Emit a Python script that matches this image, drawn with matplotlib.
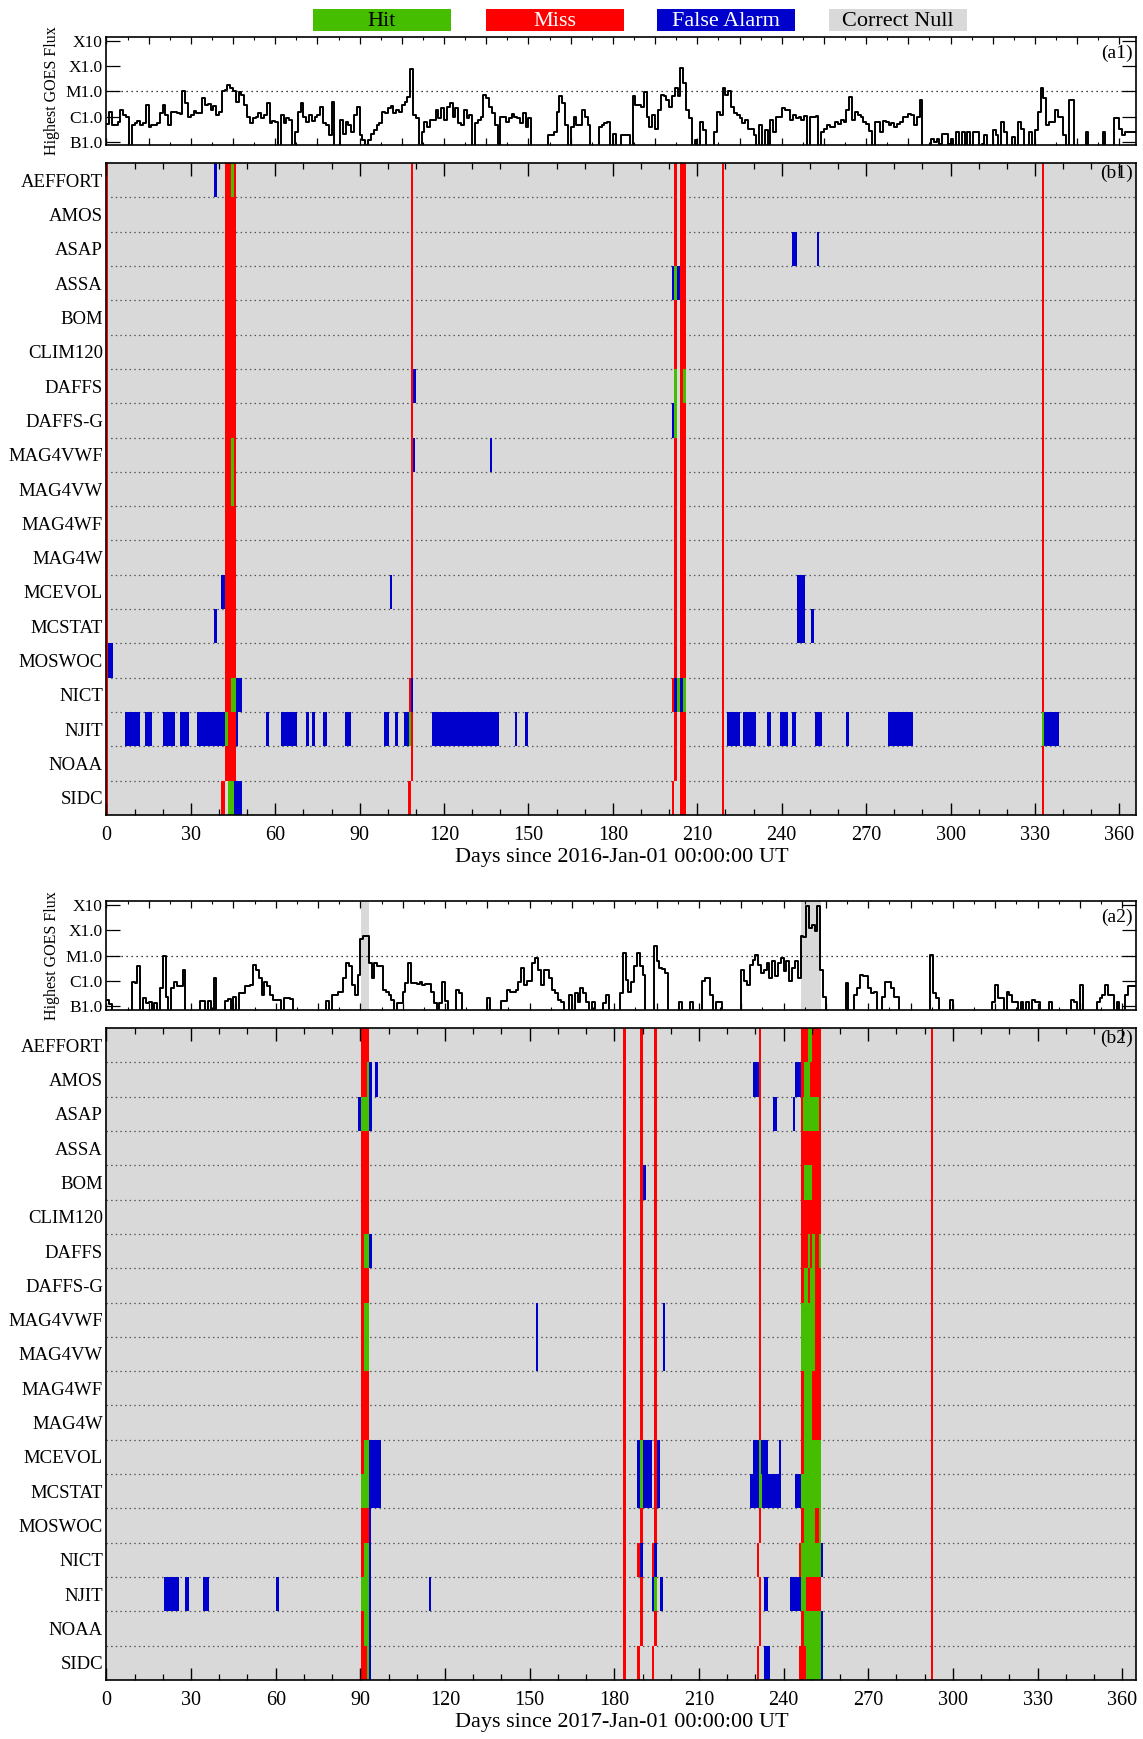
import numpy as np
import matplotlib
matplotlib.use("Agg")
import matplotlib.pyplot as plt
from matplotlib.patches import Rectangle
from matplotlib.ticker import MultipleLocator, NullFormatter, LogLocator

plt.rcParams['font.family'] = ['Liberation Serif', 'DejaVu Serif']

# ---------------------------------------------------------------- labels
methods = ["AEFFORT", "AMOS", "ASAP", "ASSA", "BOM", "CLIM120", "DAFFS", "DAFFS-G",
           "MAG4VWF", "MAG4VW", "MAG4WF", "MAG4W", "MCEVOL", "MCSTAT", "MOSWOC",
           "NICT", "NJIT", "NOAA", "SIDC"]
legend_labels = ["Hit", "Miss", "False Alarm", "Correct Null"]
legend_colors = ["#46be00", "#ff0000", "#0000cd", "#d9d9d9"]
legend_text_colors = ["black", "white", "white", "black"]
flux_tick_values = [1e-7, 1e-6, 1e-5, 1e-4, 1e-3]
flux_tick_labels = ["B1.0", "C1.0", "M1.0", "X1.0", "X10"]
day_ticks = [0, 30, 60, 90, 120, 150, 180, 210, 240, 270, 300, 330, 360]

# ---------------------------------------------------------------- GOES flux (log10 W/m^2), step starts (day)
flux16_start = [0, 1, 2, 4, 5, 6, 7, 8, 9, 10, 11, 12, 13, 14, 15, 16, 18, 19, 20, 21, 22, 23, 25, 26, 27, 28, 29,
                30, 31, 32, 34, 35, 36, 37, 38, 39, 40, 41, 42, 43, 44, 45, 46, 47, 48, 49, 50, 51, 52, 53, 54, 55,
                56, 57, 58, 59, 60, 61, 62, 63, 64, 65, 66, 67, 68, 69, 70, 71, 72, 73, 74, 75, 76, 77, 78, 79, 80,
                81, 83, 84, 85, 86, 87, 88, 89, 90, 91, 92, 93, 94, 95, 96, 97, 98, 99, 100, 101, 102, 103, 104,
                105, 106, 107, 108, 109, 110, 111, 112, 113, 114, 115, 117, 118, 119, 120, 121, 122, 123, 124, 125,
                126, 127, 128, 129, 130, 131, 132, 133, 134, 135, 136, 137, 138, 139, 140, 142, 143, 144, 145, 146,
                147, 148, 149, 150, 151, 157, 159, 160, 161, 162, 163, 164, 165, 166, 167, 169, 170, 171, 172, 175,
                176, 177, 178, 179, 180, 181, 183, 186, 187, 188, 190, 191, 192, 193, 194, 195, 196, 197, 198, 199,
                200, 201, 202, 203, 204, 205, 206, 207, 208, 209, 210, 211, 212, 213, 216, 217, 218, 219, 220, 221,
                222, 223, 224, 225, 226, 227, 228, 230, 231, 232, 233, 234, 235, 236, 237, 238, 239, 240, 241, 243,
                244, 245, 246, 247, 248, 249, 250, 252, 253, 254, 255, 256, 257, 259, 260, 261, 262, 263, 264, 265,
                266, 267, 268, 269, 270, 271, 272, 273, 275, 276, 277, 278, 279, 280, 281, 282, 283, 285, 286, 287,
                288, 289, 290, 293, 294, 295, 296, 297, 299, 300, 301, 302, 303, 304, 305, 306, 307, 308, 310, 311,
                312, 313, 315, 316, 317, 318, 319, 320, 322, 323, 324, 325, 326, 328, 329, 330, 331, 332, 333, 334,
                335, 337, 338, 340, 341, 342, 344, 348, 349, 354, 355, 358, 360, 361, 362]
flux16_log = [-6.3, -5.8, -6.33, -6.23, -5.73, -5.93, -6.0, -7.5, -6.33, -6.27, -6.17, -6.33, -6.27, -5.53, -6.4,
              -6.33, -6.27, -5.87, -5.53, -5.93, -6.33, -5.83, -5.87, -5.91, -5.0, -5.47, -6.0, -5.93, -5.77, -5.87,
              -5.27, -5.53, -5.51, -5.73, -5.56, -5.93, -5.8, -5.0, -4.93, -4.73, -4.87, -4.97, -5.4, -5.03, -5.13,
              -5.53, -6.0, -6.27, -6.07, -6.0, -5.87, -6.04, -5.93, -5.47, -6.27, -6.17, -6.23, -7.5, -5.93, -6.27,
              -6.07, -6.13, -7.5, -6.6, -5.8, -5.47, -6.0, -6.2, -5.93, -6.17, -6.0, -5.93, -5.6, -6.27, -6.33,
              -6.73, -5.4, -7.5, -6.13, -6.67, -6.2, -6.33, -6.6, -5.93, -5.6, -6.73, -6.93, -7.5, -6.93, -6.67,
              -6.53, -6.33, -6.27, -5.8, -5.87, -5.67, -5.56, -5.87, -5.73, -5.8, -5.53, -5.4, -5.24, -4.13, -5.93,
              -6.07, -7.5, -6.6, -6.2, -6.4, -6.13, -5.73, -6.07, -5.67, -6.13, -5.6, -5.47, -6.0, -5.67, -6.27,
              -6.33, -5.73, -6.07, -5.93, -7.5, -6.27, -6.13, -6.0, -5.13, -5.27, -5.6, -5.87, -6.33, -7.5, -6.0,
              -6.23, -6.07, -5.91, -6.0, -6.07, -6.27, -5.87, -6.4, -6.07, -7.5, -6.73, -6.6, -5.8, -5.2, -5.47,
              -6.33, -7.5, -6.4, -6.0, -6.33, -5.73, -6.0, -6.33, -7.5, -6.4, -6.33, -6.27, -6.23, -7.5, -6.67,
              -7.5, -6.73, -7.5, -5.2, -5.53, -5.6, -5.03, -6.0, -6.4, -5.93, -6.47, -5.73, -5.13, -5.2, -5.33,
              -5.6, -5.2, -4.87, -5.2, -4.07, -4.67, -5.73, -6.07, -7.5, -6.93, -7.5, -6.23, -6.53, -7.5, -6.6,
              -5.8, -5.93, -4.87, -5.13, -5.0, -5.6, -5.87, -5.93, -6.07, -6.27, -6.13, -6.47, -6.73, -7.5, -6.33,
              -7.5, -6.53, -7.5, -6.13, -6.6, -6.0, -6.0, -5.64, -5.73, -6.13, -5.93, -6.04, -6.0, -6.13, -5.97,
              -7.5, -6.0, -5.97, -7.5, -6.6, -6.47, -6.33, -6.4, -6.23, -6.31, -6.13, -6.23, -5.73, -5.24, -6.13,
              -5.8, -5.93, -6.0, -6.23, -6.31, -6.57, -7.5, -6.23, -6.6, -6.17, -6.23, -6.33, -6.27, -6.4, -6.31,
              -6.23, -6.0, -5.88, -5.93, -6.33, -6.0, -5.33, -7.5, -6.87, -7.0, -6.87, -7.07, -6.67, -7.07, -6.87,
              -7.5, -6.6, -7.5, -6.6, -7.5, -6.6, -7.5, -6.6, -7.5, -7.07, -6.73, -7.5, -6.53, -6.73, -7.5, -6.2,
              -6.6, -7.5, -6.8, -7.5, -6.23, -6.47, -7.5, -6.6, -7.5, -6.53, -5.8, -4.87, -5.27, -6.33, -6.23,
              -5.73, -6.0, -6.73, -7.5, -5.33, -7.5, -6.6, -7.5, -6.6, -7.5, -6.07, -6.47, -6.73, -6.6]

flux17_start = [0, 1, 2, 9, 10, 11, 12, 13, 14, 15, 16, 17, 18, 19, 20, 21, 22, 23, 24, 25, 27, 28, 33, 35, 36, 37,
                38, 39, 42, 43, 44, 45, 46, 47, 49, 51, 52, 53, 54, 55, 56, 57, 58, 59, 62, 63, 65, 66, 78, 79, 80,
                82, 84, 85, 86, 87, 88, 89, 90, 91, 93, 94, 95, 96, 98, 99, 100, 101, 102, 103, 105, 106, 107, 108,
                110, 111, 112, 113, 115, 116, 117, 118, 119, 120, 121, 124, 125, 126, 135, 136, 140, 142, 143, 145,
                146, 147, 148, 149, 151, 152, 153, 154, 155, 157, 158, 159, 160, 161, 162, 164, 165, 166, 167, 168,
                169, 170, 171, 172, 173, 176, 177, 178, 182, 183, 184, 185, 186, 187, 188, 189, 190, 191, 194, 195,
                196, 197, 198, 199, 203, 204, 207, 208, 211, 212, 214, 215, 216, 218, 225, 226, 227, 228, 229, 230,
                231, 232, 233, 234, 235, 236, 237, 238, 239, 240, 241, 242, 243, 244, 245, 246, 247, 248, 249, 250,
                251, 252, 253, 254, 255, 262, 263, 265, 266, 267, 268, 270, 271, 272, 273, 275, 276, 278, 279, 281,
                292, 293, 294, 295, 299, 300, 314, 315, 316, 318, 319, 320, 321, 323, 324, 325, 326, 327, 328, 329,
                331, 334, 335, 342, 343, 344, 345, 346, 351, 352, 353, 354, 355, 357, 358, 359, 361, 362]
flux17_log = [-6.75, -6.9, -7.5, -6.05, -6.09, -5.42, -7.5, -6.68, -6.88, -6.85, -7.5, -6.88, -7.5, -6.28, -5.03,
              -6.62, -7.5, -6.28, -6.05, -6.22, -5.56, -7.5, -6.79, -7.5, -6.79, -7.5, -5.89, -7.5, -6.79, -6.72,
              -7.5, -6.62, -7.5, -6.49, -6.22, -6.15, -5.36, -5.56, -5.89, -6.55, -6.05, -6.22, -6.55, -6.75, -7.5,
              -6.68, -6.72, -7.5, -6.79, -7.5, -6.55, -6.42, -5.89, -5.29, -5.42, -6.15, -6.55, -5.75, -4.36, -4.23,
              -5.29, -5.89, -5.29, -5.42, -6.35, -6.42, -6.55, -6.75, -7.5, -6.88, -6.42, -6.09, -5.29, -6.09,
              -6.12, -6.05, -6.15, -6.12, -6.42, -6.88, -7.5, -6.88, -6.05, -6.8, -7.5, -6.35, -6.49, -7.5, -6.68,
              -7.5, -6.8, -6.35, -6.42, -6.35, -6.05, -5.49, -6.15, -6.02, -5.29, -5.09, -5.56, -6.15, -5.56, -5.89,
              -6.35, -6.49, -6.75, -6.82, -7.5, -6.55, -7.5, -6.49, -6.82, -6.28, -6.49, -6.82, -7.5, -6.82, -7.5,
              -6.88, -6.55, -7.5, -6.49, -4.89, -5.95, -6.42, -6.05, -5.42, -4.89, -5.42, -5.75, -7.5, -4.63, -5.23,
              -5.49, -5.52, -5.69, -7.5, -6.82, -7.5, -6.82, -7.5, -6.02, -5.89, -6.55, -7.5, -6.82, -7.5, -5.56,
              -6.02, -6.15, -5.36, -5.16, -4.96, -5.36, -5.69, -5.56, -5.29, -5.89, -5.23, -5.82, -5.29, -5.09,
              -5.62, -5.23, -6.02, -5.49, -5.23, -5.89, -4.23, -4.27, -3.04, -3.9, -3.77, -4.03, -3.04, -5.56,
              -6.62, -7.5, -6.09, -7.5, -6.55, -6.28, -5.75, -5.82, -6.28, -6.49, -6.42, -7.5, -6.62, -6.05, -6.28,
              -6.62, -7.5, -4.96, -6.49, -6.68, -7.5, -6.75, -7.5, -6.82, -6.15, -6.68, -7.5, -6.42, -6.55, -6.82,
              -7.5, -6.82, -7.5, -6.82, -7.5, -6.75, -6.82, -7.5, -6.82, -7.5, -6.75, -6.82, -7.5, -6.15, -7.5,
              -6.82, -6.68, -6.55, -6.15, -6.55, -7.5, -6.82, -7.5, -6.55, -6.2]

# shaded day spans in the flux panels
shade_2016 = []
shade_2017 = [(90.2, 93.2), (246.3, 253.4)]

# ---------------------------------------------------------------- forecast outcomes 2016
# misses that affect every method: (start_day, end_day)
miss_all_2016 = [(0.0, 0.6), (42.0, 45.9), (108.2, 109.0), (201.6, 202.6), (203.7, 205.8),
                 (218.8, 219.6), (332.4, 333.1)]
# (method, start_day, end_day)
null_2016 = [("SIDC", 42.0, 43.1), ("SIDC", 201.6, 202.6), ("SIDC", 108.2, 109.0)]
miss_2016 = [("SIDC", 40.9, 42.0), ("NICT", 200.9, 201.6), ("SIDC", 200.9, 201.6), ("SIDC", 107.3, 108.1),
             ("NICT", 107.4, 108.2)]
hit_2016 = [("AEFFORT", 44.2, 45.2), ("MAG4VWF", 44.2, 45.2), ("MAG4VW", 44.2, 45.2), ("NICT", 44.2, 45.9),
            ("NJIT", 42.0, 43.1), ("SIDC", 43.1, 45.2), ("NJIT", 107.5, 108.2), ("ASSA", 201.6, 202.6),
            ("DAFFS", 201.6, 202.6), ("DAFFS", 204.8, 205.8), ("DAFFS-G", 201.6, 202.6), ("NICT", 202.6, 203.7),
            ("NICT", 204.8, 205.8), ("NJIT", 332.4, 333.1)]
fa_2016 = [("MOSWOC", 0.6, 2.2), ("AEFFORT", 38.1, 39.2), ("MCSTAT", 38.1, 39.2), ("MCEVOL", 40.9, 42.0),
           ("NICT", 45.9, 48.1), ("SIDC", 45.2, 48.1), ("NJIT", 45.9, 46.6), ("MCEVOL", 100.7, 101.5),
           ("NICT", 108.2, 108.8), ("DAFFS", 109.0, 110.0), ("MAG4VWF", 109.0, 109.7), ("MAG4VWF", 136.2, 137.0),
           ("ASSA", 200.9, 201.6), ("ASSA", 202.6, 203.7), ("DAFFS-G", 200.9, 201.6), ("NICT", 201.6, 202.6),
           ("NICT", 203.7, 204.8), ("ASAP", 243.8, 245.4), ("ASAP", 252.5, 253.2), ("MCEVOL", 245.4, 248.1),
           ("MCSTAT", 245.4, 248.1), ("MCSTAT", 250.5, 251.3),
           ("NJIT", 6.7, 11.8), ("NJIT", 13.8, 16.1), ("NJIT", 20.0, 24.4), ("NJIT", 26.3, 29.5),
           ("NJIT", 32.2, 42.0), ("NJIT", 56.6, 57.8), ("NJIT", 62.1, 67.6), ("NJIT", 70.8, 72.0),
           ("NJIT", 73.1, 74.3), ("NJIT", 77.1, 78.3), ("NJIT", 84.9, 86.9), ("NJIT", 98.7, 100.3),
           ("NJIT", 102.6, 103.8), ("NJIT", 105.8, 107.5), ("NJIT", 115.6, 139.6), ("NJIT", 145.1, 145.9),
           ("NJIT", 148.6, 149.8), ("NJIT", 220.6, 225.0), ("NJIT", 226.1, 230.8), ("NJIT", 234.8, 236.3),
           ("NJIT", 239.5, 242.3), ("NJIT", 243.8, 245.0), ("NJIT", 251.7, 254.4), ("NJIT", 262.7, 263.9),
           ("NJIT", 277.6, 286.7), ("NJIT", 333.1, 338.6)]

# ---------------------------------------------------------------- forecast outcomes 2017
miss_all_2017 = [(90.2, 93.1), (183.2, 184.2), (189.2, 190.3), (194.2, 195.3), (231.4, 232.1),
                 (246.3, 253.4), (292.3, 293.0)]
null_2017 = [("SIDC", 189.2, 190.3), ("SIDC", 194.2, 195.3), ("NICT", 231.4, 232.1), ("SIDC", 231.4, 232.1)]
miss_2017 = [("NICT", 188.2, 189.2), ("SIDC", 188.2, 189.2), ("NICT", 193.5, 194.2), ("SIDC", 193.5, 194.2),
             ("NICT", 230.4, 231.4), ("SIDC", 230.4, 231.4), ("NICT", 245.3, 246.3), ("SIDC", 245.3, 246.3)]
hit_2017 = [("AMOS", 92.4, 93.1), ("ASAP", 90.2, 93.1), ("DAFFS", 91.3, 93.1), ("MAG4VWF", 91.3, 93.1),
            ("MAG4VW", 91.3, 93.1), ("MCEVOL", 91.3, 93.1), ("MCSTAT", 90.2, 93.1), ("NICT", 91.3, 93.1),
            ("NJIT", 90.2, 93.1), ("NOAA", 91.3, 93.1), ("SIDC", 92.4, 93.1),
            ("MCEVOL", 189.2, 190.3), ("MCSTAT", 189.2, 190.3), ("NJIT", 194.2, 195.3),
            ("MCEVOL", 231.4, 232.1), ("MCSTAT", 231.4, 232.4),
            ("AEFFORT", 248.5, 250.2), ("AMOS", 247.4, 249.2), ("ASAP", 247.0, 252.4), ("BOM", 247.4, 250.2),
            ("DAFFS", 248.5, 249.5), ("DAFFS", 250.2, 251.3), ("DAFFS", 252.4, 253.4),
            ("DAFFS-G", 247.4, 248.5), ("DAFFS-G", 249.2, 251.3), ("MAG4VWF", 246.3, 251.3),
            ("MAG4VW", 246.3, 251.3), ("MAG4WF", 247.4, 250.2), ("MAG4W", 247.4, 250.2),
            ("MCEVOL", 247.4, 253.4), ("MCSTAT", 246.3, 253.4), ("MOSWOC", 247.4, 251.3),
            ("MOSWOC", 252.4, 253.4), ("NICT", 246.3, 253.4), ("NJIT", 246.3, 248.1), ("NOAA", 247.4, 253.4),
            ("SIDC", 248.1, 253.4)]
fa_2017 = [("NJIT", 20.4, 25.6), ("NJIT", 27.9, 29.1), ("NJIT", 34.2, 36.2), ("NJIT", 60.2, 61.0),
           ("ASAP", 89.2, 90.2), ("AMOS", 93.1, 94.2), ("AMOS", 95.2, 96.3), ("ASAP", 93.1, 94.2),
           ("DAFFS", 93.1, 94.2), ("MCEVOL", 93.1, 97.3), ("MCSTAT", 93.1, 97.3), ("MOSWOC", 93.1, 93.8),
           ("NICT", 93.1, 93.8), ("NJIT", 93.1, 93.8), ("NOAA", 93.1, 93.8), ("SIDC", 93.1, 93.8),
           ("NJIT", 114.4, 115.2), ("MAG4VWF", 152.2, 153.0), ("MAG4VW", 152.2, 153.0),
           ("MCEVOL", 188.2, 189.2), ("MCSTAT", 188.2, 189.2), ("BOM", 190.3, 191.4),
           ("MCEVOL", 190.3, 193.5), ("MCSTAT", 190.3, 193.5), ("NICT", 189.2, 190.3), ("NJIT", 193.5, 194.2),
           ("NICT", 194.2, 195.3), ("MCEVOL", 195.3, 196.3), ("MCSTAT", 195.3, 196.3), ("NJIT", 196.3, 197.4),
           ("MAG4VWF", 197.4, 198.1), ("MAG4VW", 197.4, 198.1), ("MCSTAT", 228.2, 231.4),
           ("MCEVOL", 229.3, 231.4), ("AMOS", 229.3, 231.4), ("MCEVOL", 232.1, 234.3), ("MCSTAT", 232.4, 239.2),
           ("NJIT", 233.2, 234.3), ("SIDC", 233.2, 235.3), ("ASAP", 236.4, 237.5), ("MCEVOL", 238.2, 239.2),
           ("NJIT", 242.1, 246.3), ("ASAP", 243.5, 244.2), ("AMOS", 244.2, 246.3), ("MCSTAT", 244.2, 246.3),
           ("NICT", 253.4, 254.1), ("NOAA", 253.4, 254.1), ("SIDC", 253.4, 254.1)]

# ---------------------------------------------------------------- figure
W, H = 1143, 1739
fig = plt.figure(figsize=(W / 100, H / 100), dpi=100)
fig.patch.set_facecolor("white")

HIT, MISS, FA, NULL = legend_colors
AX_L, AX_W = 106.4 / W, (1136.3 - 106.4) / W


def fig_rect(top_px, bottom_px):
    return [AX_L, 1 - bottom_px / H, AX_W, (bottom_px - top_px) / H]


def draw_flux(ax, starts, logs, shades, label, ndays, ylim):
    x = np.append(np.asarray(starts, float), ndays)
    y = 10.0 ** np.asarray(logs, float)
    y = np.append(y, y[-1])
    for s0, s1 in shades:
        ax.axvspan(s0, s1, color=NULL, lw=0, zorder=1)
    ax.plot(x, y, drawstyle="steps-post", color="black", lw=1.4, zorder=3)
    ax.set_yscale("log")
    ax.set_ylim(*ylim)
    ax.set_xlim(0, ndays)
    ax.axhline(1e-5, color="black", ls=(0, (1, 3)), lw=0.9, zorder=2)
    ax.set_yticks(flux_tick_values)
    ax.set_yticklabels(flux_tick_labels, fontsize=12.5)
    ax.yaxis.set_minor_locator(LogLocator(base=10, subs=np.arange(2, 10)))
    ax.yaxis.set_minor_formatter(NullFormatter())
    ax.xaxis.set_major_locator(MultipleLocator(15))
    ax.xaxis.set_minor_locator(MultipleLocator(7.5))
    ax.set_xticklabels([])
    ax.tick_params(axis="y", which="major", direction="in", length=10, width=0.9, left=True, right=True, pad=2.5)
    ax.tick_params(axis="y", which="minor", direction="in", length=5, width=0.8, left=True, right=True)
    ax.tick_params(axis="x", which="major", direction="in", length=5, width=0.9, top=True, bottom=True)
    ax.tick_params(axis="x", which="minor", direction="in", length=2.5, width=0.8, top=True, bottom=True)
    ax.set_ylabel("Highest GOES Flux", fontsize=11.5, labelpad=4)
    ax.text(0.997, 0.93, label, transform=ax.transAxes, ha="right", va="top", fontsize=14)
    for sp in ax.spines.values():
        sp.set_linewidth(1.2)


def draw_outcomes(ax, miss_all, nulls, misses, hits, fas, label, ndays, year):
    ax.set_facecolor(NULL)
    idx = {m: i for i, m in enumerate(methods)}
    for k in range(len(methods) - 1):
        ax.axhline(k + 0.5, color="#555555", ls=(0, (1.2, 2.5)), lw=0.9, zorder=0.5)
    for s0, s1 in miss_all:
        ax.axvspan(s0, s1, color=MISS, lw=0, zorder=1)
    for events, col in ((nulls, NULL), (misses, MISS), (hits, HIT), (fas, FA)):
        if not events:
            continue
        rows = [idx[e[0]] for e in events]
        lefts = [e[1] for e in events]
        widths = [e[2] - e[1] for e in events]
        ax.barh(rows, widths, left=lefts, height=1.0, color=col, lw=0, zorder=2)
    ax.set_ylim(len(methods) - 0.5, -0.5)
    ax.set_xlim(0, ndays)
    ax.set_yticks(range(len(methods)))
    ax.set_yticklabels(methods, fontsize=13.5)
    ax.tick_params(axis="y", length=0, pad=2.5)
    ax.set_xticks(day_ticks)
    ax.set_xticklabels([str(d) for d in day_ticks], fontsize=14.5)
    ax.xaxis.set_minor_locator(MultipleLocator(10))
    ax.tick_params(axis="x", which="major", direction="in", length=9, width=1.0, top=True, bottom=True, pad=8)
    ax.tick_params(axis="x", which="minor", direction="in", length=4, width=0.9, top=True, bottom=True)
    ax.set_xlabel("Days since %d-Jan-01 00:00:00 UT" % year, fontsize=16, labelpad=2)
    ax.text(0.997, 0.997, label, transform=ax.transAxes, ha="right", va="top", fontsize=14, zorder=5)
    for sp in ax.spines.values():
        sp.set_linewidth(1.2)
        sp.set_zorder(6)


ax_a1 = fig.add_axes(fig_rect(36.6, 145.2))
ax_b1 = fig.add_axes(fig_rect(163.0, 815.0))
ax_a2 = fig.add_axes(fig_rect(901.0, 1010.0))
ax_b2 = fig.add_axes(fig_rect(1028.0, 1680.0))

draw_flux(ax_a1, flux16_start, flux16_log, shade_2016, "(a1)", 366, (10 ** -7.13, 10 ** -2.83))
draw_flux(ax_a2, flux17_start, flux17_log, shade_2017, "(a2)", 365, (10 ** -7.15, 10 ** -2.84))
draw_outcomes(ax_b1, miss_all_2016, null_2016, miss_2016, hit_2016, fa_2016, "(b1)", 366, 2016)
draw_outcomes(ax_b2, miss_all_2017, null_2017, miss_2017, hit_2017, fa_2017, "(b2)", 365, 2017)

# legend boxes along the top
box_x = [313, 486, 657, 829]
box_w, box_top, box_h = 138, 9, 22
for x0, lab, col, tcol in zip(box_x, legend_labels, legend_colors, legend_text_colors):
    fig.add_artist(Rectangle((x0 / W, 1 - (box_top + box_h) / H), box_w / W, box_h / H,
                             transform=fig.transFigure, facecolor=col, edgecolor="none"))
    fig.text((x0 + box_w / 2) / W, 1 - (box_top + box_h / 2 + 1) / H, lab, ha="center", va="center",
             color=tcol, fontsize=16)

fig.savefig("out.png", dpi=100)
